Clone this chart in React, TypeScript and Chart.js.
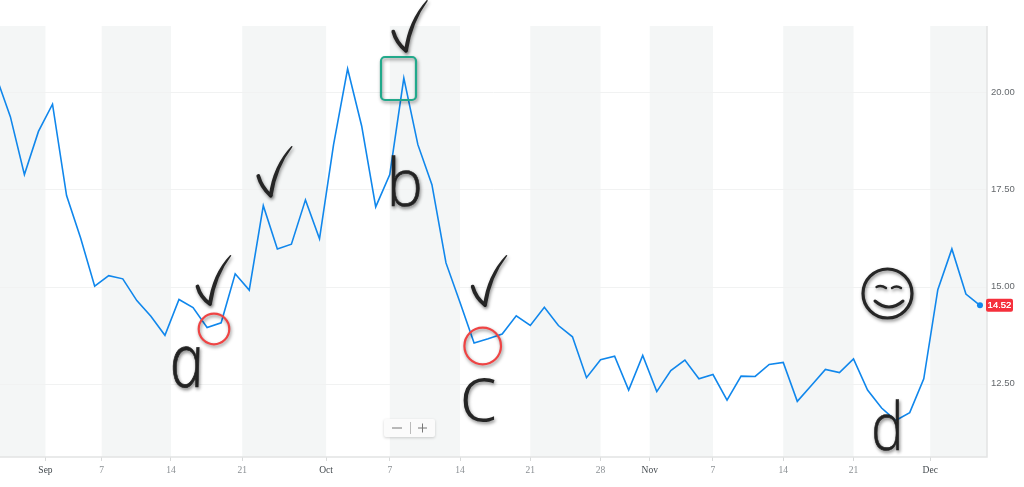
import React, { useEffect, useRef } from "react";
import { Chart, registerables } from "chart.js";

Chart.register(...registerables);

// trading-day index, closing value
const values = [
  20.39, 19.37, 17.88, 18.99, 19.69, 17.34, 16.25, 15.01, 15.28, 15.2, 14.64, 14.24, 13.75, 14.67, 14.46, 13.95,
  14.07, 15.33, 14.91, 17.08, 15.97, 16.09, 17.23, 16.23, 18.65, 20.6, 19.13, 17.05, 17.88, 20.36, 18.65, 17.62,
  15.61, 14.59, 13.55, 13.66, 13.78, 14.25, 14.0, 14.47, 14.0, 13.71, 12.66, 13.12, 13.21, 12.34, 13.23, 12.3,
  12.84, 13.11, 12.63, 12.74, 12.08, 12.7, 12.69, 13.0, 13.05, 12.05, 12.46, 12.87, 12.79, 13.14, 12.34, 11.88,
  11.56, 11.76, 12.63, 14.92, 15.97, 14.81, 14.52,
];
const tickLabels = ["Sep", "7", "14", "21", "Oct", "7", "14", "21", "28", "Nov", "7", "14", "21", "Dec"];
const tickIndex = [3.5, 7.5, 12.43, 17.5, 23.47, 28, 33, 38, 43, 46.5, 51, 56, 61, 66.46];
const monthLabels = ["Sep", "Oct", "Nov", "Dec"];
const yTicks = [12.5, 15, 17.5, 20];
const lastValue = "14.52";

const BLUE = "#1087ec";
const INK = "#262626";

const annotationsPlugin = {
  id: "annotations",
  beforeDatasetsDraw(chart: any) {
    const { ctx, chartArea: a, scales } = chart;
    const xs = scales.x;
    const edges = [xs.min, ...tickIndex, xs.max];
    ctx.save();
    ctx.fillStyle = "#f4f6f6";
    for (let k = 0; k + 1 < edges.length; k += 2) {
      const x0 = xs.getPixelForValue(edges[k]);
      const x1 = xs.getPixelForValue(edges[k + 1]);
      ctx.fillRect(x0, a.top, x1 - x0, a.bottom - a.top);
    }
    ctx.restore();
    const ys = scales.y;
    ctx.save();
    ctx.strokeStyle = "#f1f2f2";
    ctx.lineWidth = 1;
    yTicks.forEach((t) => {
      const y = Math.round(ys.getPixelForValue(t)) + 0.5;
      ctx.beginPath();
      ctx.moveTo(a.left, y);
      ctx.lineTo(a.right, y);
      ctx.stroke();
    });
    ctx.restore();
  },
  afterDraw(chart: any) {
    const { ctx, chartArea: a, scales } = chart;
    const shadow = () => {
      ctx.shadowColor = "rgba(0,0,0,0.45)";
      ctx.shadowBlur = 3.5;
      ctx.shadowOffsetX = 1;
      ctx.shadowOffsetY = 2;
    };
    // axis frame
    ctx.save();
    ctx.strokeStyle = "#e2e4e4";
    ctx.lineWidth = 1.5;
    ctx.beginPath();
    ctx.moveTo(0, a.bottom);
    ctx.lineTo(a.right, a.bottom);
    ctx.lineTo(a.right, a.top);
    ctx.stroke();
    ctx.restore();

    // last value badge
    const ly = scales.y.getPixelForValue(values[values.length - 1]);
    ctx.save();
    ctx.fillStyle = "#f5303c";
    ctx.beginPath();
    ctx.roundRect(a.right - 1, ly - 6.5, 27, 13, 2);
    ctx.fill();
    ctx.fillStyle = "#fff";
    ctx.font = "9.5px 'Liberation Sans'";
    ctx.textAlign = "center";
    ctx.textBaseline = "middle";
    ctx.fillText(lastValue, a.right + 12.5, ly + 0.5);
    ctx.fillText(lastValue, a.right + 12.5, ly + 0.5);
    ctx.restore();

    // zoom control
    ctx.save();
    ctx.shadowColor = "rgba(0,0,0,0.18)";
    ctx.shadowBlur = 3;
    ctx.shadowOffsetY = 1;
    ctx.fillStyle = "#fbfbfb";
    ctx.beginPath();
    ctx.roundRect(384, 419, 51, 18, 2);
    ctx.fill();
    ctx.shadowColor = "transparent";
    ctx.strokeStyle = "#777";
    ctx.lineWidth = 1;
    ctx.beginPath();
    ctx.moveTo(392, 428);
    ctx.lineTo(402, 428);
    ctx.moveTo(418, 428);
    ctx.lineTo(427, 428);
    ctx.moveTo(422.5, 423.5);
    ctx.lineTo(422.5, 432.5);
    ctx.stroke();
    ctx.strokeStyle = "#bbb";
    ctx.beginPath();
    ctx.moveTo(410.5, 422);
    ctx.lineTo(410.5, 434);
    ctx.stroke();
    ctx.restore();

    // red circles
    ctx.save();
    shadow();
    ctx.strokeStyle = "#ef4444";
    ctx.lineWidth = 2.2;
    ctx.beginPath();
    ctx.arc(214, 329, 15.3, 0, Math.PI * 2);
    ctx.stroke();
    ctx.beginPath();
    ctx.arc(482.7, 346, 18.3, 0, Math.PI * 2);
    ctx.stroke();
    // green box
    ctx.strokeStyle = "#22a98b";
    ctx.beginPath();
    ctx.roundRect(381, 57, 35, 43, 4);
    ctx.stroke();
    ctx.restore();

    // checks
    const checks = [
      [197.5, 286.5, 210, 304, 230.7, 255],
      [258.3, 176, 270.7, 195.7, 292, 146],
      [393.3, 31.7, 406, 50.7, 427.3, 0],
      [472.7, 286.7, 485, 305, 506.7, 255],
    ];
    ctx.save();
    shadow();
    ctx.strokeStyle = INK;
    ctx.fillStyle = INK;
    ctx.lineCap = "round";
    ctx.lineJoin = "round";
    checks.forEach(([x0, y0, x1, y1, x2, y2]) => {
      ctx.lineWidth = 3.8;
      ctx.beginPath();
      ctx.moveTo(x0, y0);
      ctx.quadraticCurveTo(x0 + 3, y0 + 11, x1, y1);
      ctx.stroke();
      ctx.beginPath();
      ctx.moveTo(x1 - 1.9, y1);
      ctx.quadraticCurveTo(x1 + 2, y1 - 30, x2 - 0.5, y2);
      ctx.lineTo(x2 + 0.7, y2 + 0.5);
      ctx.quadraticCurveTo(x1 + 6, y1 - 28, x1 + 1.9, y1);
      ctx.closePath();
      ctx.fill();
    });
    ctx.restore();

    // handwritten letters, fitted to a box
    const letters: [string, number, number, number, number][] = [
      ["a", 172, 347, 203, 388],
      ["b", 392, 157, 420, 207],
      ["c", 463, 378, 495, 422],
      ["d", 874, 400, 899, 451],
    ];
    ctx.save();
    shadow();
    ctx.fillStyle = INK;
    ctx.strokeStyle = INK;
    ctx.lineWidth = 0.8;
    letters.forEach(([t, x0, y0, x1, y1]) => {
      ctx.save();
      ctx.font = t === "a" ? "italic 300 80px 'Open Sans'" : "300 80px 'Open Sans'";
      const m = ctx.measureText(t);
      const w = m.actualBoundingBoxRight + m.actualBoundingBoxLeft;
      const h = m.actualBoundingBoxAscent + m.actualBoundingBoxDescent;
      ctx.translate(x0, y0);
      ctx.scale((x1 - x0) / w, (y1 - y0) / h);
      if (t === "a") ctx.transform(1, 0, 0.18, 1, -0.09 * h, 0);
      ctx.fillText(t, m.actualBoundingBoxLeft, m.actualBoundingBoxAscent);
      if (t !== "c") ctx.strokeText(t, m.actualBoundingBoxLeft, m.actualBoundingBoxAscent);
      ctx.restore();
    });
    ctx.restore();

    // smiley
    ctx.save();
    shadow();
    ctx.strokeStyle = INK;
    ctx.lineCap = "round";
    ctx.lineWidth = 3.2;
    ctx.beginPath();
    ctx.arc(887.5, 293.5, 24.5, 0, Math.PI * 2);
    ctx.stroke();
    ctx.lineWidth = 2.4;
    ctx.beginPath();
    ctx.moveTo(876.5, 287);
    ctx.quadraticCurveTo(881, 284.5, 886, 288);
    ctx.moveTo(892, 288);
    ctx.quadraticCurveTo(896.5, 285, 901, 288);
    ctx.stroke();
    ctx.lineWidth = 3;
    ctx.beginPath();
    ctx.moveTo(875, 301);
    ctx.quadraticCurveTo(889, 313, 903, 301);
    ctx.stroke();
    ctx.restore();
  },
};

export default function App() {
  const ref = useRef<HTMLCanvasElement>(null);
  useEffect(() => {
    const chart = new Chart(ref.current!, {
      type: "line",
      plugins: [annotationsPlugin],
      data: {
        datasets: [
          {
            data: values.map((v, i) => ({ x: i, y: v })),
            borderColor: BLUE,
            backgroundColor: BLUE,
            borderWidth: 1.6,
            tension: 0,
            pointRadius: values.map((_, i) => (i === values.length - 1 ? 3 : 0)),
            pointBorderWidth: 0,
          },
        ],
      },
      options: {
        animation: false,
        responsive: false,
        layout: { autoPadding: false, padding: { top: 26, left: 0, right: 0, bottom: 0 } },
        plugins: { legend: { display: false }, tooltip: { enabled: false } },
        scales: {
          x: {
            type: "linear",
            min: 0.263,
            max: 70.5,
            afterFit(s: any) {
              s.height = 30;
              s.paddingLeft = 0;
              s.paddingRight = 0;
            },
            afterBuildTicks(s: any) {
              s.ticks = tickIndex.map((v) => ({ value: v }));
            },
            grid: { drawOnChartArea: false, drawTicks: true, tickLength: 4, color: "#d8dada" },
            border: { display: false },
            ticks: {
              autoSkip: false,
              maxRotation: 0,
              padding: 4,
              font: { family: "'Liberation Serif'", size: 9.5 },
              color: (c: any) => (monthLabels.includes(tickLabels[c.index]) ? "#444a4f" : "#8a8f93"),
              callback: (_v: any, i: number) => tickLabels[i],
            },
          },
          y: {
            position: "right",
            min: 10.62,
            max: 21.7,
            afterFit(s: any) {
              s.width = 37;
              s.paddingTop = 0;
              s.paddingBottom = 0;
            },
            afterBuildTicks(s: any) {
              s.ticks = yTicks.map((v) => ({ value: v }));
            },
            grid: { display: false, drawTicks: false },
            border: { display: false },
            ticks: {
              padding: 4,
              font: { family: "'Liberation Sans'", size: 9.5 },
              color: "#65696d",
              callback: (v: any) => Number(v).toFixed(2),
            },
          },
        },
      },
    });
    return () => chart.destroy();
  }, []);
  return (
    <div style={{ position: "fixed", left: 0, top: 0, width: 1024, height: 487, background: "#fff" }}>
      <canvas ref={ref} width={1024} height={487} style={{ display: "block" }} />
    </div>
  );
}
